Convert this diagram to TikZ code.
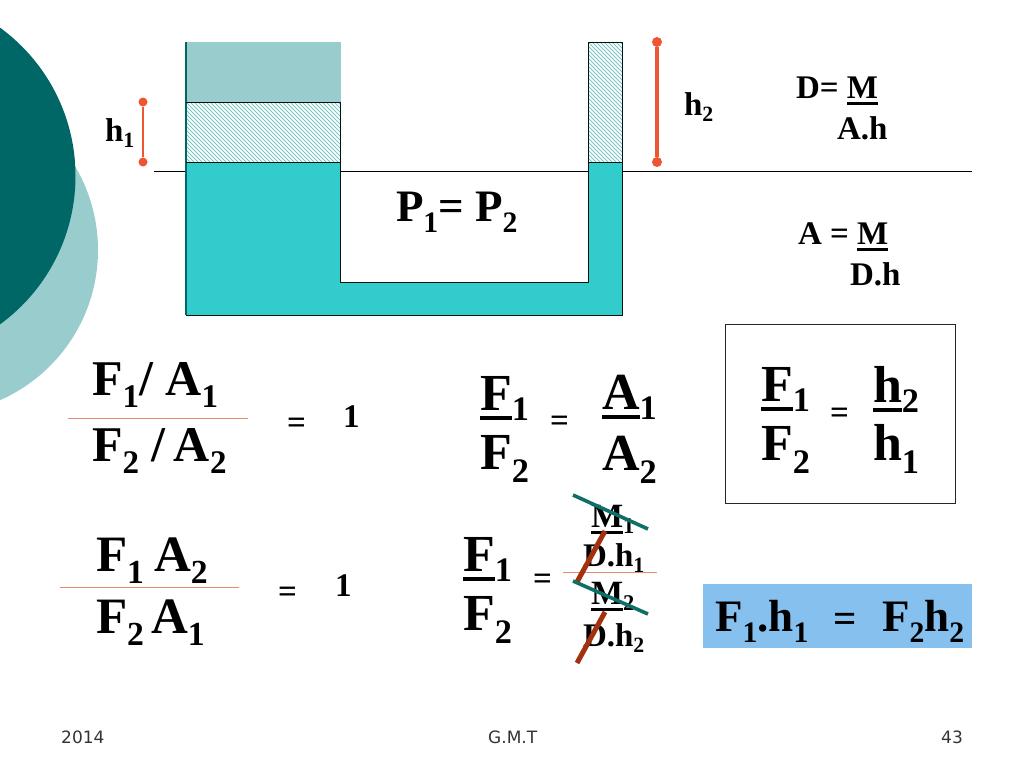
\documentclass[tikz,border=0pt]{standalone}
\usepackage{fontspec}
\setmainfont{Liberation Serif}
\newfontfamily\footfont{DejaVu Sans}
\definecolor{tealD}{HTML}{006666}
\definecolor{tealL}{HTML}{99CCCC}
\definecolor{water}{HTML}{33CCCC}
\definecolor{hatchC}{HTML}{7CC5C5}
\definecolor{redL}{HTML}{EE5533}
\definecolor{crossR}{HTML}{A3300F}
\definecolor{crossT}{HTML}{0F6F68}
\definecolor{fracL}{HTML}{E88A70}
\definecolor{blueB}{HTML}{85C0EE}
\newcommand\dn[1]{\raisebox{-0.25em}{\scalebox{0.66}{#1}}}
\newcommand\du[1]{\raisebox{-0.2em}{\scalebox{0.66}{#1}}}
\newcommand\ul[1]{\setbox0=\hbox{#1}\rlap{\raisebox{-.2em}{\rule{\wd0}{.09em}}}\box0}
\tikzset{
  txt/.style={anchor=base west,inner sep=0pt,outer sep=0pt,font=\bfseries\fontsize{#1}{#1}\selectfont},
  foot/.style={anchor=base west,inner sep=0pt,font=\footfont\fontsize{17}{17}\selectfont,text=black!80},
  hatchline/.style={draw=hatchC,line width=1pt},
  edge/.style={draw=black!85!teal,line width=0.9pt},
  marker/.style={draw=redL,line width=#1},
  dot/.style={circle,fill=redL,inner sep=0pt,minimum size=#1},
  fracline/.style={draw=fracL,line width=1pt},
  strikeT/.style={draw=crossT,line width=3.6pt},
  strikeR/.style={draw=crossR,line width=5pt}
}
\begin{document}
\begin{tikzpicture}[x=1pt,y=-1pt]
\useasboundingbox (0,0) rectangle (1024,768);
\clip (0,0) rectangle (1024,768);
% background circles
\fill[tealL] (-66,250) circle[radius=164];
\fill[tealD] (-108,176) circle[radius=183.5];
% level line
\coordinate (la) at (154,171);
\coordinate (lb) at (972,171);
\draw[black,line width=0.9pt] (la) -- (lb);
% vessel
\fill[tealL] (186,42) rectangle (341,102);
\begin{scope}
\clip (186,102) rectangle (340,162);
\foreach \k in {-64,-60,...,156} \draw[hatchline] (186+\k,102) -- (246+\k,162);
\end{scope}
\begin{scope}
\clip (588,42) rectangle (622,162);
\foreach \k in {-124,-120,...,36} \draw[hatchline] (588+\k,42) -- (708+\k,162);
\end{scope}
\fill[water] (186,162) -- (340,162) -- (340,282) -- (588,282) -- (588,162) -- (622,162) -- (622,315) -- (186,315) -- cycle;
\draw[edge] (186,315) -- (622,315) -- (622,42) -- (588,42) -- (588,282) -- (340,282) -- (340,102);
\draw[draw=tealD,line width=1.3pt] (186,42) -- (186,315);
\draw[edge] (186,102) -- (340,102);
\draw[edge] (186,162) -- (340,162);
\draw[edge] (588,162) -- (622,162);
% height markers
\node[dot=9pt] (h1a) at (143,102) {};
\node[dot=9pt] (h1b) at (143,162) {};
\draw[marker=2.4pt] (h1a) -- (h1b);
\node[dot=10pt] (h2a) at (657,42) {};
\node[dot=10pt] (h2b) at (657,162) {};
\draw[marker=3.6pt] (h2a) -- (h2b);
% labels
\node[txt=33] (th1) at (105,141) {h\du{1}};
\node[txt=33] (th2) at (684,115) {h\du{2}};
\node[txt=45] (pp) at (396,221) {P\dn{1}= P\dn{2}};
\node[txt=33] (d1) at (796,98) {D= \ul{M}};
\node[txt=33] (d2) at (837,139) {A.h};
\node[txt=33] (a1) at (798,244) {A = \ul{M}};
\node[txt=33] (a2) at (850,285) {D.h};
% first fraction
\node[txt=50] (f1) at (92,395) {F\dn{1}/ A\dn{1}};
\node[txt=50] (f2) at (92,461) {F\dn{2} /\hspace{-4pt} A\dn{2}};
\coordinate (l1a) at (68,418); \coordinate (l1b) at (248,418);
\draw[fracline] (l1a) -- (l1b);
\node[txt=33] (e1) at (287,433) {=};
\node[txt=33] (o1) at (343,427) {1};
% second fraction
\node[txt=52] (f3) at (480,410) {\ul{F}\du{1}};
\node[txt=52] (f4) at (480,469) {F\dn{2}};
\node[txt=33] (e2) at (550,431) {=};
\node[txt=52] (a3) at (602,409) {\ul{A}\du{1}};
\node[txt=52] (a4) at (602,470) {A\dn{2}};
% boxed result
\node[draw=black!85,line width=1pt,minimum width=230pt,minimum height=179pt,inner sep=0pt,anchor=north west] (bx) at (725,324) {};
\node[txt=52] (f5) at (761,401) {\ul{F}\du{1}};
\node[txt=52] (f6) at (761,460) {F\dn{2}};
\node[txt=33] (e3) at (830,423) {=};
\node[txt=52] (h3) at (873,402) {\ul{h}\du{2}};
\node[txt=52] (h4) at (873,460) {h\dn{1}};
% third fraction
\node[txt=51] (f7) at (96,571) {F\dn{1}};
\node[txt=51] (f7b) at (154,571) {A\dn{2}};
\node[txt=51] (f8) at (96,633) {F\dn{2}};
\node[txt=51] (f8b) at (151,633) {A\dn{1}};
\coordinate (l2a) at (60,587); \coordinate (l2b) at (239,587);
\draw[fracline] (l2a) -- (l2b);
\node[txt=33] (e4) at (278,602) {=};
\node[txt=33] (o2) at (335,596) {1};
% fourth fraction
\node[txt=52] (f9) at (463,571) {\ul{F}\du{1}};
\node[txt=52] (f10) at (463,630) {F\dn{2}};
\node[txt=33] (e5) at (533,589) {=};
\node[txt=34] (m1) at (591,527) {\ul{M}\du{1}};
\node[txt=33] (dh1) at (583,566) {D.h\du{1}};
\coordinate (l3a) at (563,572); \coordinate (l3b) at (657,572);
\draw[fracline] (l3a) -- (l3b);
\node[txt=34] (m2) at (591,604) {\ul{M}\du{2}};
\node[txt=33] (dh2) at (583,646) {D.h\du{2}};
% strikes
\coordinate (t1a) at (573,495); \coordinate (t1b) at (648,529);
\coordinate (t2a) at (573,581); \coordinate (t2b) at (648,614);
\coordinate (r1a) at (605,531); \coordinate (r1b) at (577,582);
\coordinate (r2a) at (605,612); \coordinate (r2b) at (577,663);
\draw[strikeR] (r1a) -- (r1b);
\draw[strikeR] (r2a) -- (r2b);
\draw[strikeT] (t1a) -- (t1b);
\draw[strikeT] (t2a) -- (t2b);
% blue result
\node[fill=blueB,minimum width=269pt,minimum height=64pt,inner sep=0pt,anchor=north west] (bl) at (703,584) {};
\node[txt=45] (res) at (715,631) {F\dn{1}.h\dn{1}};
\node[txt=41] (reseq) at (833,632) {=};
\node[txt=45] (res2) at (882,631) {F\dn{2}h\dn{2}};
% footer
\node[foot] (y) at (61,743) {2014};
\node[foot] (g) at (488,743) {G.M.T};
\node[foot] (n) at (941,743) {43};
\end{tikzpicture}
\end{document}
